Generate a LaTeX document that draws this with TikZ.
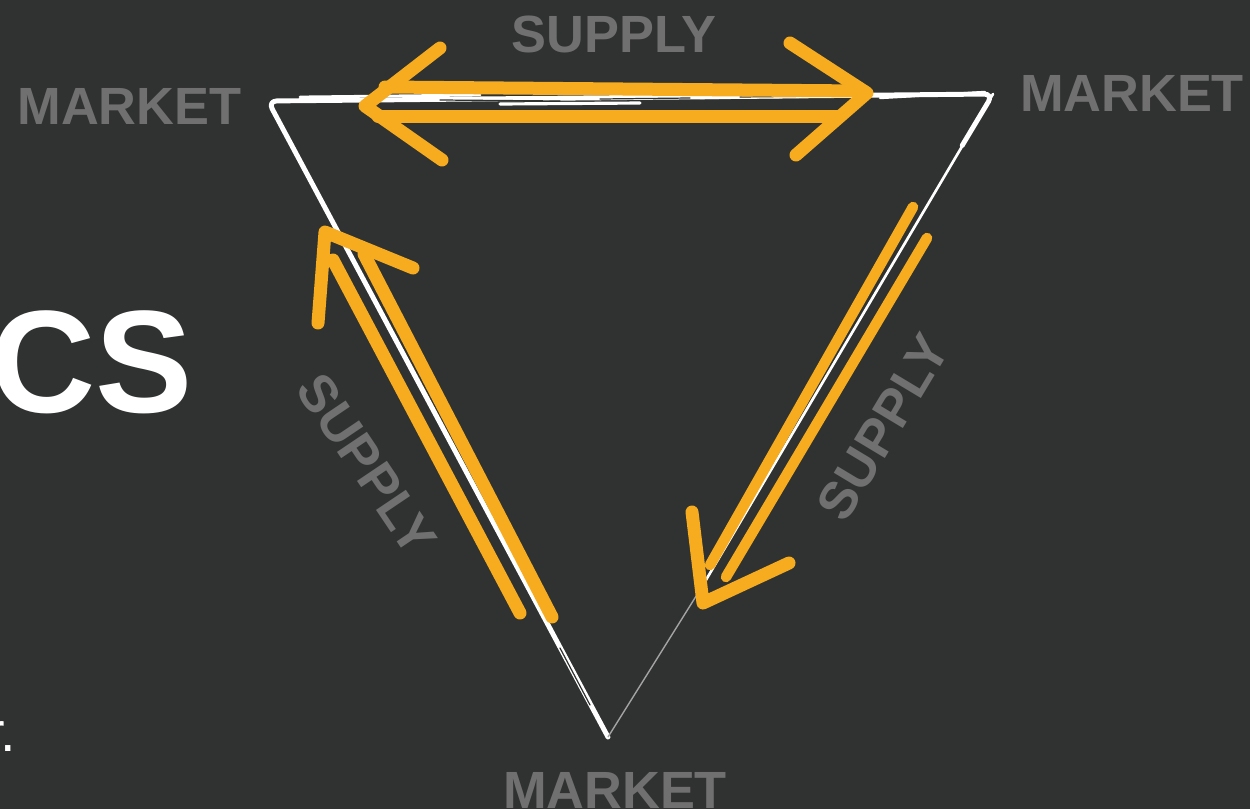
\documentclass[tikz,border=0pt]{standalone}
\usepackage{fontspec}
\usetikzlibrary{calc}
\setmainfont{Liberation Sans}
\definecolor{bg}{RGB}{48,50,49}
\definecolor{org}{RGB}{246,172,30}
\definecolor{lbl}{RGB}{112,112,112}
\begin{document}
\begin{tikzpicture}[x=0.02cm,y=-0.02cm,
  lab/.style={text=lbl, font=\bfseries\fontsize{29.8}{30}\selectfont, inner sep=0pt},
  arr/.style={draw=org, line width=7.4pt, line cap=round, line join=round},
  chalk/.style={draw=white, line cap=round, line join=round},
  streak/.style={draw=bg, line width=0.7pt, line cap=round}]
\fill[bg] (0,0) rectangle (1250,809);
\useasboundingbox (0,0) rectangle (1250,809);

% partial slide texts
\node[anchor=east, text=white, font=\bfseries\fontsize{83}{83}\selectfont, inner sep=0pt] (title) at (193,362) {CS};
\node[anchor=base east, text=white, font=\fontsize{31.7}{32}\selectfont, inner sep=0pt] (note) at (16,751) {r\kern-2.8pt.};

% labels
\node[lab] (mL) at (129.5,106) {MARKET};
\node[lab] (mR) at (1132,93) {MARKET};
\node[lab] (mB) at (615,790) {MARKET};
\node[lab] (sT) at (614,34) {SUPPLY};
\node[lab, rotate=-56] (sL) at (367,464) {SUPPLY};
\node[lab, rotate=59] (sR) at (883,427) {SUPPLY};

% hand-drawn triangle
\coordinate (TL) at (268,101);
\coordinate (TR) at (993,94);
\coordinate (B) at (608,737);
\coordinate (RM) at (703,585);
\coordinate (TRd) at ($(TR)!0.08!(B)$);
\draw[chalk, line width=2.8pt, rounded corners=5pt] (B) -- (TL) -- (TR) -- (TRd);
\draw[chalk, line width=1.5pt] (TR) -- (RM);
\draw[draw=white!55!bg, line width=0.8pt] (RM) -- (B);
% chalk texture
\draw[chalk, line width=1.6pt] (300,97) -- (480,95);
\draw[chalk, line width=1.8pt] (500,104) -- (640,103);
\draw[chalk, line width=1.4pt] (700,98) -- (860,96);
\draw[chalk, line width=1.4pt] (880,98) -- (985,92);
\draw[streak] (440,100) -- (560,101);
\draw[streak] (600,99) -- (690,98);
\draw[streak] (740,97) -- (830,96);
\draw[streak] (420,470) -- (470,565);
\draw[streak] (560,648) -- (590,705);

% top double arrow
\draw[arr] (440,48) -- (365,106) -- (442,160);
\draw[arr] (790,43) -- (867,93) -- (796,155);
\draw[arr] (385,87) -- (862,91);
\draw[arr] (378,116) -- (838,116);

% left arrow
\draw[arr] (318,323) -- (325,232) -- (413,268);
\draw[arr] (333,260) -- (520,613);
\draw[arr] (364,254) -- (552,617);

% right arrow
\draw[arr, line width=6pt] (913,207) -- (710,565);
\draw[arr, line width=6pt] (927,238) -- (726,577);
\draw[arr] (692,512) -- (703,603) -- (789,563);
\end{tikzpicture}
\end{document}
